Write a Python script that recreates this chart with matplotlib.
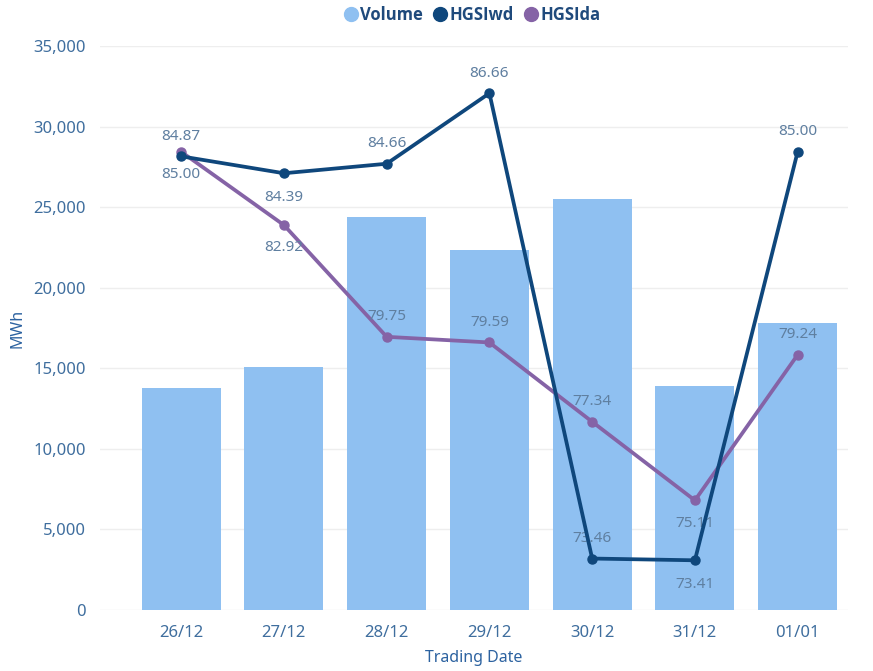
import matplotlib
matplotlib.use("Agg")
import matplotlib.pyplot as plt
from matplotlib.lines import Line2D
from matplotlib.ticker import FuncFormatter

plt.rcParams['font.family'] = ['Noto Sans', 'DejaVu Sans']

dates = ["26/12", "27/12", "28/12", "29/12", "30/12", "31/12", "01/01"]
volume = [13750, 15080, 24390, 22340, 25490, 13920, 17800]
hgsi_wd = [84.87, 84.39, 84.66, 86.66, 73.46, 73.41, 85.00]
hgsi_da = [85.00, 82.92, 79.75, 79.59, 77.34, 75.11, 79.24]
# label placement: +1 above, -1 below
wd_pos = [1, -1, 1, 1, 1, -1, 1]
da_pos = [-1, -1, 1, 1, 1, -1, 1]

bar_c = '#8fc0f1'
wd_c = '#0f477c'
da_c = '#8563a6'
tick_c = '#3f6e9e'
lab_c = '#5f7fa0'
title_c = '#2c62a0'

fig = plt.figure(figsize=(8.73, 6.71), dpi=100)
ax = fig.add_axes([100/873, 61/671, 748/873, 564/671])
x = list(range(len(dates)))
ax.bar(x, volume, width=0.77, color=bar_c, zorder=2)
ax.set_ylim(0, 35000)
ax.set_xlim(-0.79, 6.49)
ax.set_yticks(range(0, 35001, 5000))
ax.yaxis.set_major_formatter(FuncFormatter(lambda v, p: f"{int(v):,}"))
ax.set_xticks(x)
ax.set_xticklabels(dates)
ax.grid(axis='y', color='#eeeeee', linewidth=1, zorder=0)
for s in ax.spines.values():
    s.set_visible(False)
ax.tick_params(length=0, colors=tick_c, labelsize=12)
ax.tick_params(axis='y', pad=10)
ax.tick_params(axis='x', pad=11)
ax.set_ylabel("MWh", color=title_c, fontsize=11.5, labelpad=6)
ax.set_xlabel("Trading Date", color=title_c, fontsize=11.5, labelpad=6)

ax2 = ax.twinx()
ax2.set_ylim(72, 88)
ax2.axis('off')
ax2.plot(x, hgsi_wd, color=wd_c, lw=2.7, marker='o', ms=6.5, zorder=4)
ax2.plot(x, hgsi_da, color=da_c, lw=2.7, marker='o', ms=6.5, zorder=3)
for xi, v, p in zip(x, hgsi_wd, wd_pos):
    ax2.annotate(f"{v:.2f}", (xi, v), xytext=(0, 14.5 if p > 0 else -17.5), textcoords='offset points',
                 ha='center', va='center', color=lab_c, fontsize=11)
for xi, v, p in zip(x, hgsi_da, da_pos):
    ax2.annotate(f"{v:.2f}", (xi, v), xytext=(0, 14.5 if p > 0 else -16.5), textcoords='offset points',
                 ha='center', va='center', color=lab_c, fontsize=11)

handles = [Line2D([], [], ls='none', marker='o', ms=10, color=c) for c in (bar_c, wd_c, da_c)]
leg = fig.legend(handles, ["Volume", "HGSIwd", "HGSIda"], loc='center', bbox_to_anchor=(471/873, 1 - 15/671),
                 ncol=3, frameon=False, handletextpad=0.0, columnspacing=0.5, handlelength=1.1,
                 prop={'family': ['Open Sans', 'DejaVu Sans'], 'weight': 'bold', 'size': 12})
for t in leg.get_texts():
    t.set_color('#1f4a7c')

fig.savefig("out.png", dpi=100)
